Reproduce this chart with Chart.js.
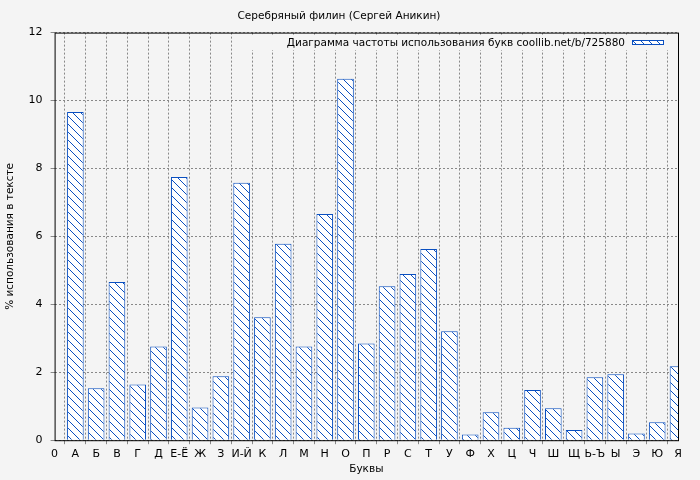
<!DOCTYPE html>
<html><head><meta charset="utf-8">
<script src="https://cdn.jsdelivr.net/npm/chart.js@4"></script>
<style>body{margin:0;background:#f4f4f4}#w{width:700px;height:480px}</style>
</head><body><div id="w"><canvas id="c"></canvas></div>
<script>
const letters = ['0','А','Б','В','Г','Д','Е-Ё','Ж','З','И-Й','К','Л','М','Н','О','П','Р','С','Т','У','Ф','Х','Ц','Ч','Ш','Щ','Ь-Ъ','Ы','Э','Ю','Я'];
const values = [null,9.66,1.53,4.66,1.64,2.76,7.75,0.96,1.88,7.58,3.62,5.78,2.76,6.66,10.64,2.85,4.53,4.89,5.63,3.21,0.17,0.82,0.37,1.48,0.94,0.30,1.85,1.94,0.20,0.53,2.18];
const titleText = 'Серебряный филин (Сергей Аникин)';
const legendText = 'Диаграмма частоты использования букв coollib.net/b/725880';

function makePattern(){
  const p=document.createElement('canvas');p.width=8;p.height=8;
  const g=p.getContext('2d');g.fillStyle='#ffffff';g.fillRect(0,0,8,8);
  g.strokeStyle='#0a4fc0';g.lineWidth=1;
  g.beginPath();g.moveTo(-1,-1);g.lineTo(9,9);g.moveTo(-1,7);g.lineTo(1,9);g.moveTo(7,-1);g.lineTo(9,1);g.stroke();
  return g.createPattern(p,'repeat');
}
const pat=makePattern();
const bg={id:'bg',beforeDraw(c){const x=c.ctx;x.save();x.fillStyle='#f4f4f4';x.fillRect(0,0,c.width,c.height);x.restore();},
 afterDraw(c){const x=c.ctx,a=c.chartArea;x.save();
  x.fillStyle='#f4f4f4';x.fillRect(240,35,a.right-241,15);
  x.font='10.5px "DejaVu Sans"';x.fillStyle='#000';x.textAlign='right';x.textBaseline='middle';
  x.fillText(legendText,625,43);
  x.fillStyle=pat;x.fillRect(632,40,32,5);x.strokeStyle='#0a4fc0';x.strokeRect(632.5,40.5,31,4);
  x.strokeStyle='#000';x.lineWidth=1;x.strokeRect(a.left+0.5,a.top+0.5,a.right-a.left,a.bottom-a.top);
  x.restore();}};
new Chart(document.getElementById('c'),{type:'bar',
 data:{labels:letters,datasets:[{data:values,backgroundColor:pat,borderColor:'#0a4fc0',borderWidth:1,barPercentage:0.8,categoryPercentage:1}]},
 options:{responsive:true,maintainAspectRatio:false,animation:false,
  layout:{padding:{top:0,right:22,left:0,bottom:0}},
  plugins:{legend:{display:false},tooltip:{enabled:false},
   title:{display:true,text:titleText,font:{family:'DejaVu Sans',size:10.5,weight:'normal'},color:'#000',padding:{top:10,bottom:10}}},
  scales:{
   x:{offset:false,grid:{color:'#888',tickLength:4},border:{display:false,dash:[2,2]},
      ticks:{color:'#000',font:{family:'DejaVu Sans',size:11},maxRotation:0,autoSkip:false},
      title:{display:true,text:'Буквы',color:'#000',font:{family:'DejaVu Sans',size:10.5},padding:{top:0}}},
   y:{min:0,max:12,grid:{color:'#888',tickLength:4},border:{display:false,dash:[2,2]},
      ticks:{stepSize:2,color:'#000',padding:8,font:{family:'DejaVu Sans',size:11}},
      title:{display:true,text:'% использования в тексте',color:'#000',font:{family:'DejaVu Sans',size:10.5}}}
  }},plugins:[bg]});
</script></body></html>
